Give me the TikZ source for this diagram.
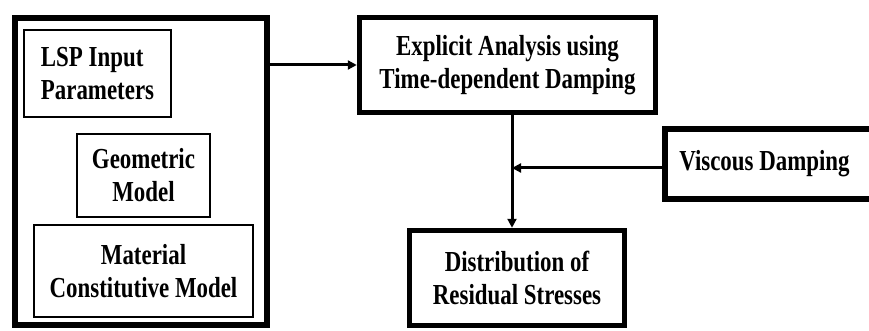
\documentclass[tikz,border=0pt]{standalone}
\usepackage{fontspec}
\setmainfont{Liberation Serif}[FakeStretch=0.79]
\usetikzlibrary{arrows.meta}
\begin{document}
\begin{tikzpicture}[x=1pt,y={(0pt,-1pt)},
  txt/.style={font=\bfseries\fontsize{29}{33}\selectfont, align=center, inner sep=0pt},
  thinbox/.style={txt, draw, line width=2pt},
  thickbox/.style={txt, draw, line width=5.5pt},
  arr/.style={line width=3pt, -{Triangle[length=9pt,width=9pt]}},
  ln/.style={line width=3pt}]
\useasboundingbox (0,0) rectangle (869,331);
\node[draw, line width=6pt, minimum width=252pt, minimum height=307pt] (outer) at (141,171.5) {};
\node[thinbox, align=left, minimum width=147pt, minimum height=87pt] (lsp) at (97.5,73.5) {LSP Input\\Parameters};
\node[thinbox, minimum width=133pt, minimum height=83pt] (geo) at (143.5,175.5) {Geometric\\Model};
\node[thinbox, minimum width=219pt, minimum height=92pt] (mat) at (143.5,271) {Material\\Constitutive Model};
\node[thickbox, minimum width=296pt, minimum height=95pt] (exp) at (507.5,65) {Explicit Analysis using\\Time-dependent Damping};
\node[thickbox, minimum width=207pt, minimum height=70pt] (visc) at (768.5,164) {\hspace*{-8pt}Viscous Damping};
\node[thickbox, minimum width=215pt, minimum height=95pt] (dist) at (517,278) {Distribution of\\Residual Stresses};
\coordinate (j) at (512,168);
\draw[arr] (outer.east |- exp.west) -- (exp.west);
\draw[arr] (exp.south -| j) -- (dist.north -| j);
\draw[arr] (visc.west |- j) -- (j);
\end{tikzpicture}
\end{document}
